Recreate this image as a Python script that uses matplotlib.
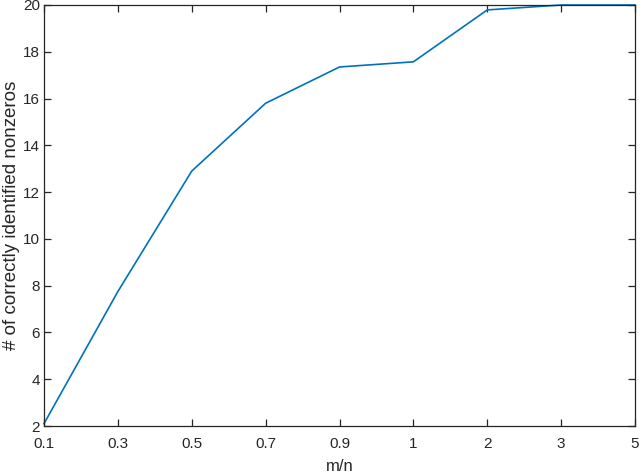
import numpy as np
import matplotlib.pyplot as plt

ratio_labels = ["0.1", "0.3", "0.5", "0.7", "0.9", "1", "2", "3", "5"]
nonzeros = [2.1, 7.75, 12.9, 15.8, 17.35, 17.57, 19.79, 20.0, 20.0]
y_ticks = [2, 4, 6, 8, 10, 12, 14, 16, 18, 20]

plt.rcParams['font.family'] = ['Liberation Sans', 'DejaVu Sans']
plt.rcParams['font.size'] = 10

fig = plt.figure(figsize=(6.4, 4.74), dpi=100)
ax = fig.add_axes([44/640, 1 - 426/474, (635-44)/640, (426-5)/474])

xs = np.arange(len(ratio_labels))
ax.plot(xs, nonzeros, color='#0072BD', linewidth=1.2, clip_on=False)

ax.set_xlim(0, len(ratio_labels) - 1)
ax.set_ylim(2, 20)
ax.set_xticks(xs)
ax.set_xticklabels(ratio_labels)
ax.set_yticks(y_ticks)

grey = '#262626'
for s in ax.spines.values():
    s.set_color(grey)
    s.set_linewidth(0.9)
ax.tick_params(direction='in', top=True, right=True, length=5, width=0.9,
               colors=grey, labelcolor=grey, labelsize=11)
ax.tick_params(axis='x', pad=8)
ax.tick_params(axis='y', pad=3)
ax.set_xlabel("m/n", color=grey, fontsize=12, labelpad=6)
ax.set_ylabel("# of correctly identified nonzeros", color=grey, fontsize=13.5, labelpad=2)

fig.savefig("out.png", dpi=100)
